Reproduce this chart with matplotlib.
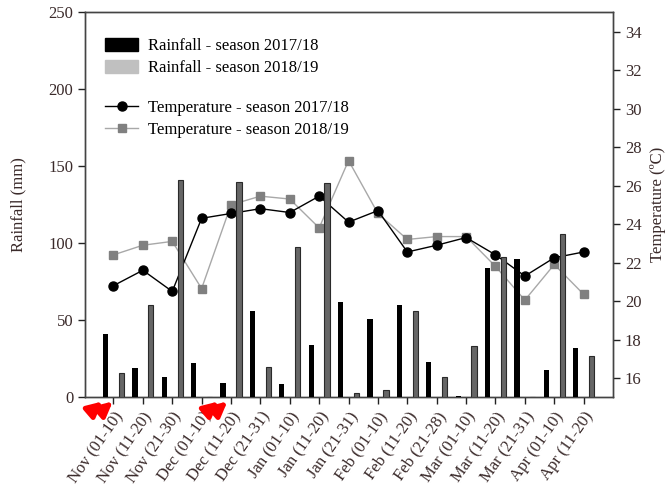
import matplotlib
matplotlib.use("Agg")
import matplotlib.pyplot as plt
import numpy as np
from matplotlib.patches import Patch
from matplotlib.lines import Line2D

plt.rcParams['font.family'] = ['Liberation Serif', 'DejaVu Serif']

periods = ["Nov (01-10)", "Nov (11-20)", "Nov (21-30)", "Dec (01-10)", "Dec (11-20)",
           "Dec (21-31)", "Jan (01-10)", "Jan (11-20)", "Jan (21-31)", "Feb (01-10)",
           "Feb (11-20)", "Feb (21-28)", "Mar (01-10)", "Mar (11-20)", "Mar (21-31)",
           "Apr (01-10)", "Apr (11-20)"]

# rainfall (mm)
rain_1718 = [41, 19, 13, 22, 9, 56, 8.5, 34, 62, 51, 60, 23, 1, 84, 90, 18, 32]
rain_1819 = [16, 60, 141, 0, 140, 20, 97.5, 139, 3, 4.5, 56, 13, 33, 91, 0, 106, 27]

# mean temperature (C)
temp_1718 = [20.8, 21.6, 20.5, 24.3, 24.55, 24.8, 24.6, 25.45, 24.1, 24.7,
             22.55, 22.9, 23.3, 22.4, 21.3, 22.25, 22.55]
temp_1819 = [22.4, 22.9, 23.1, 20.65, 25.0, 25.45, 25.3, 23.8, 27.3, 24.55,
             23.2, 23.35, 23.35, 21.8, 20.05, 21.9, 20.35]

# sowing marks (arrow tips, in period units)
arrow_pos = [-0.3, 0.05, 3.65, 3.95]

x = np.arange(len(periods))
txt = '#3a2a2a'

fig = plt.figure(figsize=(6.68, 4.93), dpi=100)
ax = fig.add_axes([0.1272, 0.1941, 0.7905, 0.7809])
ax2 = ax.twinx()

# temperatures behind the bars
ax2.plot(x, temp_1819, color='#a8a8a8', lw=1, marker='s', ms=6,
         mfc='#808080', mec='#808080', zorder=2)
ax2.plot(x, temp_1718, color='black', lw=1, marker='o', ms=6.5, zorder=3)
ax2.set_ylim(15, 35)
ax2.set_yticks(range(16, 35, 2))
ax2.set_ylabel('Temperature (ºC)', fontsize=12, color=txt, labelpad=6)

ax.set_zorder(ax2.get_zorder() + 1)
ax.patch.set_visible(False)

w = 0.18
ax.bar(x - 0.27, rain_1718, w, color='black', zorder=3)
ax.bar(x + 0.27, rain_1819, w, color='#666666', edgecolor='#2a2a2a', lw=0.8, zorder=3)
ax.set_ylim(0, 250)
ax.set_yticks(range(0, 251, 50))
ax.set_xlim(-0.97, 17.0)
ax.set_xticks(x)
ax.set_xticklabels(periods, rotation=55, ha='right', va='top', rotation_mode='anchor')
ax.set_ylabel('Rainfall (mm)', fontsize=12, color=txt, labelpad=16)

for a in (ax, ax2):
    a.tick_params(labelsize=12, length=5, width=1, colors='#222222', labelcolor=txt)
    for s in a.spines.values():
        s.set_color('#444444')
        s.set_linewidth(1)

# red arrows marking sowing
for p in arrow_pos:
    ax.annotate('', xy=(p, -0.006), xycoords=('data', 'axes fraction'),
                xytext=(p - 0.55, -0.042), textcoords=('data', 'axes fraction'),
                arrowprops=dict(arrowstyle='-|>', color='red', lw=3.5, mutation_scale=22),
                annotation_clip=False)

bar_handles = [Patch(color='black'), Patch(color='#c0c0c0')]
leg1 = ax.legend(bar_handles, ['Rainfall - season 2017/18', 'Rainfall - season 2018/19'],
                 loc='upper left', bbox_to_anchor=(0.025, 0.95), frameon=False,
                 fontsize=12, handlelength=2.0, handleheight=0.8, handletextpad=0.6,
                 labelspacing=0.35, borderaxespad=0)
ax.add_artist(leg1)
line_handles = [Line2D([], [], color='black', lw=1, marker='o', ms=6.5),
                Line2D([], [], color='#a8a8a8', lw=1, marker='s', ms=6,
                       mfc='#808080', mec='#808080')]
ax.legend(line_handles, ['Temperature - season 2017/18', 'Temperature - season 2018/19'],
          loc='upper left', bbox_to_anchor=(0.025, 0.79), frameon=False,
          fontsize=12, handlelength=2.0, handletextpad=0.6, labelspacing=0.35,
          borderaxespad=0)

fig.savefig('out.png', dpi=100)
